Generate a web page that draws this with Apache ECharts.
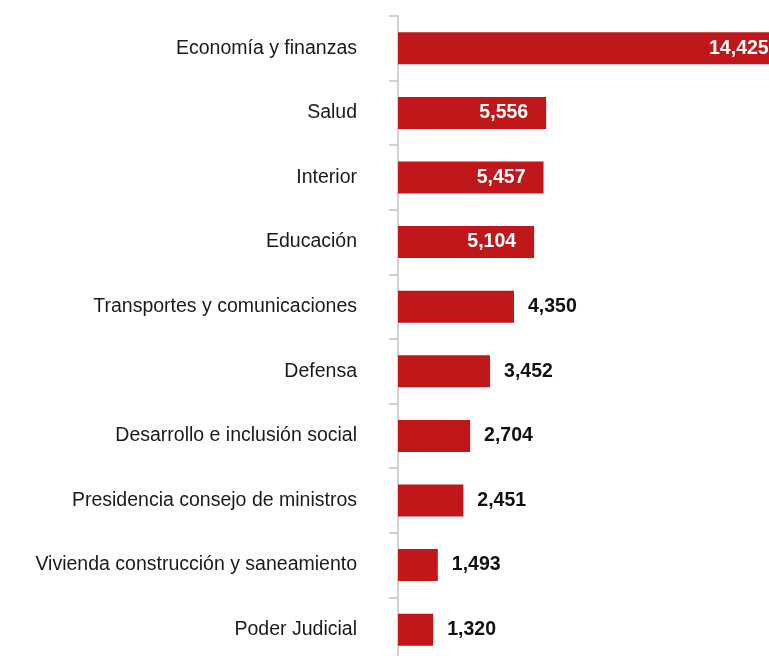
<!DOCTYPE html>
<html><head><meta charset="utf-8">
<script src="https://cdn.jsdelivr.net/npm/echarts@6/dist/echarts.min.js"></script>
<style>html,body{margin:0;padding:0;background:#fff}#c{width:769px;height:656px}</style>
</head><body><div id="c"></div>
<script>
const categories = ["Economía y finanzas","Salud","Interior","Educación","Transportes y comunicaciones","Defensa","Desarrollo e inclusión social","Presidencia consejo de ministros","Vivienda construcción y saneamiento","Poder Judicial"];
const values = [14425,5556,5457,5104,4350,3452,2704,2451,1493,1320];
const insideCount = 4;

const chart = echarts.init(document.getElementById('c'));
const fmt = v => v.toLocaleString('en-US');
chart.setOption({
  animation:false,
  grid:{left:398, top:16, width:400, height:646, outerBoundsMode:'none'},
  xAxis:{type:'value', min:0, max:15000, show:false},
  yAxis:{type:'category', inverse:true, data:categories,
    axisLine:{show:true, lineStyle:{color:'#c4c4c4', width:1.5}},
    axisTick:{show:true, alignWithLabel:false, interval:0, length:9, lineStyle:{color:'#c4c4c4', width:1.5}},
    axisLabel:{margin:41, fontFamily:'Liberation Sans, Arial', fontSize:19.5, color:'#1a1a1a'}
  },
  series:[{type:'bar', barWidth:32, clip:false,
    data: values.map((v,i)=>({value:v,
      label: i<insideCount ? {position:'insideRight', distance:i===0?14:18, color:'#fff'} : {position:'right', distance:14, color:'#111'}
    })),
    itemStyle:{color:'#C0171A'},
    label:{show:true, fontFamily:'Liberation Sans, Arial', fontSize:19.5, fontWeight:'bold', formatter:p=>fmt(p.value)}
  }]
});
</script></body></html>
